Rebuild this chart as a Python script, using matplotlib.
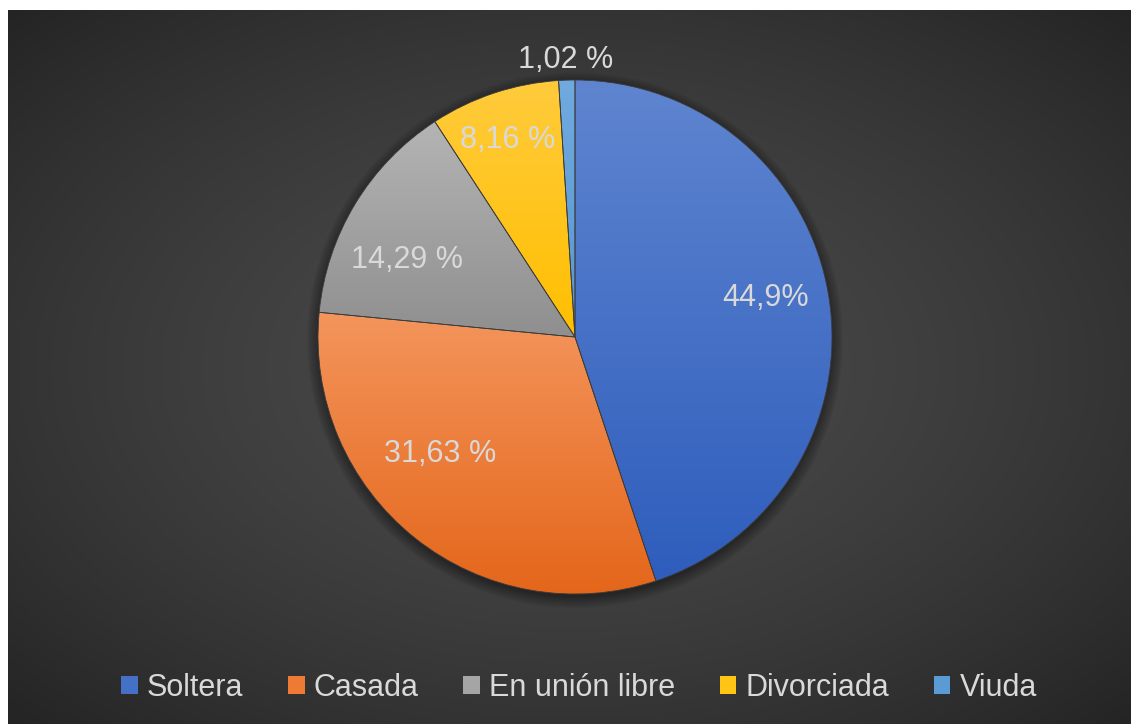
import numpy as np
import matplotlib
matplotlib.use("Agg")
import matplotlib.pyplot as plt
from matplotlib.patches import Patch, Circle
from matplotlib.colors import LinearSegmentedColormap, to_rgb

# ---- data ----
categories = ["Soltera", "Casada", "En unión libre", "Divorciada", "Viuda"]
values = [44.9, 31.63, 14.29, 8.16, 1.02]
value_labels = ["44,9%", "31,63 %", "14,29 %", "8,16 %", "1,02 %"]

# ---- style ----
top_colors = ["#5F85D0", "#F4955C", "#B4B4B4", "#FFCB3C", "#70AADF"]
bot_colors = ["#2E5DBC", "#E4661A", "#8F8F8F", "#FFBF00", "#5797D3"]
legend_colors = ["#4470C6", "#EE7A33", "#A5A5A5", "#FFC414", "#5B9BD5"]
label_dist = [0.755, 0.695, 0.72, 0.81, 1.08]
label_angle_offset = [2.4, -10.7, 6.6, 0.4, 0.0]
text_color = "#D9D9D9"
font = ["Liberation Sans", "DejaVu Sans"]

W, H = 1131, 724
fig = plt.figure(figsize=(W / 100, H / 100), dpi=100)
fig.patch.set_facecolor("white")

# ---- background chart area with radial gradient ----
x0, y0 = 8, 0
bw, bh = W - 8, H - 10
bg = fig.add_axes([x0 / W, y0 / H, bw / W, bh / H])
bg.set_axis_off()
yy, xx = np.mgrid[0:bh, 0:bw]
cx, cy = bw * 0.50, bh * 0.50
d = np.sqrt(((xx - cx) / (bw / 2)) ** 2 + ((yy - cy) / (bh / 2)) ** 2) / np.sqrt(2)
d = np.clip(d, 0, 1) ** 1.5
c0 = np.array(to_rgb("#4A4A4A"))
c1 = np.array(to_rgb("#242424"))
img = c0[None, None, :] * (1 - d[..., None]) + c1[None, None, :] * d[..., None]
bg.imshow(img, extent=[0, 1, 0, 1], aspect="auto", origin="upper")
bg.set_xlim(0, 1)
bg.set_ylim(0, 1)

# ---- pie ----
pcx, pcy, R = 575, 337, 257
ax = fig.add_axes([(pcx - R) / W, (H - pcy - R) / H, 2 * R / W, 2 * R / H])
ax.set_axis_off()

# soft shadow
for k in range(8):
    ax.add_patch(Circle((0.0, -0.012), 1.0 + 0.006 * k, color="black",
                        alpha=0.05, zorder=0, lw=0, clip_on=False))

wedges, _ = ax.pie(values, startangle=90, counterclock=False, radius=1,
                   colors=legend_colors,
                   wedgeprops=dict(edgecolor="#3C3C3C", linewidth=0.6))

for i, w in enumerate(wedges):
    w.set_zorder(2)
    bb = w.get_path().get_extents(w.get_patch_transform())
    cmap = LinearSegmentedColormap.from_list("g%d" % i, [top_colors[i], bot_colors[i]])
    grad = np.linspace(0, 1, 256).reshape(-1, 1)
    im = ax.imshow(grad, cmap=cmap, extent=[bb.x0, bb.x1, bb.y0, bb.y1],
                   aspect="auto", origin="upper", zorder=1)
    im.set_clip_path(w)
    w.set_facecolor("none")

ax.set_xlim(-1, 1)
ax.set_ylim(-1, 1)
ax.set_aspect("equal")

# labels
for i, w in enumerate(wedges):
    ang = np.deg2rad((w.theta1 + w.theta2) / 2 + label_angle_offset[i])
    r = label_dist[i]
    ax.text(r * np.cos(ang), r * np.sin(ang), value_labels[i], ha="center",
            va="center", fontsize=22, color=text_color, family=font, zorder=5)

# ---- legend ----
handles = [Patch(facecolor=c, edgecolor="none") for c in legend_colors]
leg = fig.legend(handles, categories, loc="center", ncol=5,
                 bbox_to_anchor=(579 / W, 1 - 688 / H), frameon=False,
                 handlelength=0.55, handleheight=0.55, handletextpad=0.3,
                 columnspacing=1.45, prop={"family": font, "size": 22})
for t in leg.get_texts():
    t.set_color(text_color)

fig.savefig("out.png", dpi=100)
